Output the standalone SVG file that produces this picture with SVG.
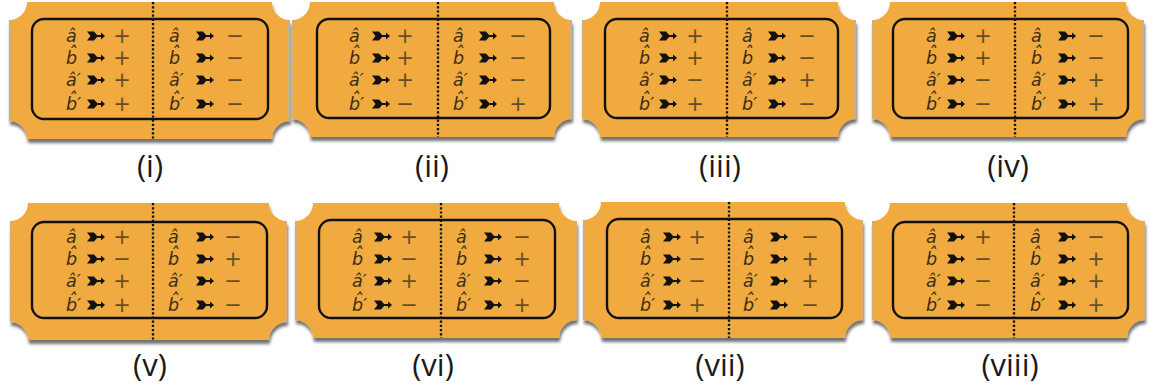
<svg xmlns="http://www.w3.org/2000/svg" xmlns:xlink="http://www.w3.org/1999/xlink" width="1149" height="392" viewBox="0 0 1149 392">
<defs>
<filter id="sh" x="-5%" y="-5%" width="112%" height="125%"><feDropShadow dx="1" dy="4" stdDeviation="1.8" flood-color="#000" flood-opacity="0.55"/></filter>
<path id="ar" d="M0,-4.5 L7,-4.5 L11,0 L7,4.5 L0,4.5 L3.5,0 Z M10.5,-0.9 H14 V-3.4 L18,0 L14,3.4 V0.9 H10.5 Z" fill="#111"/>
<style>
.tk{fill:#F1AA3F;filter:url(#sh)}
.perf{stroke:#b3b2b4;stroke-width:2;stroke-dasharray:1.6 1.6;fill:none}
.in{fill:none;stroke:#111;stroke-width:2.4}
.dv{stroke:#111;stroke-width:2.3;stroke-dasharray:2.2 2}
.v{font-family:"DejaVu Sans",sans-serif;font-style:italic;font-size:17.5px;fill:#3a2e14}
.s{font-family:"DejaVu Sans",sans-serif;font-size:21px;fill:#634f28;text-anchor:middle}
.lbl{font-family:"Open Sans",sans-serif;font-size:31px;fill:#1a1a1a;text-anchor:middle}
</style>
</defs>

<g id="ticket-i">
<path class="tk" d="M27,2 H272 A18,18 0 0 0 290,20 V121 A18,18 0 0 0 272,139 H27 A18,18 0 0 0 9,121 V20 A18,18 0 0 0 27,2 Z"/>
<line class="perf" x1="10" y1="20" x2="10" y2="121"/><line class="perf" x1="289" y1="20" x2="289" y2="121"/>
<rect class="in" x="32" y="19" width="236" height="100" rx="12"/>
<line class="dv" x1="153" y1="2" x2="153" y2="139"/>
<g transform="translate(66,36)">
<text class="v" y="6">â</text><use href="#ar" x="21"/><text class="s" x="56" y="7">+</text>
<text class="v" y="28">b<tspan dx="-9" dy="-5">ˆ</tspan></text><use href="#ar" x="21" y="22"/><text class="s" x="56" y="29">+</text>
<text class="v" y="50">â′</text><use href="#ar" x="21" y="44"/><text class="s" x="56" y="51">+</text>
<text class="v" y="74">b<tspan dx="-9" dy="-5">ˆ</tspan><tspan dx="0.3" dy="5">′</tspan></text><use href="#ar" x="21" y="68"/><text class="s" x="56" y="75">+</text>
</g>
<g transform="translate(169,36)">
<text class="v" y="6">â</text><use href="#ar" x="27"/><text class="s" x="66" y="7">−</text>
<text class="v" y="28">b<tspan dx="-9" dy="-5">ˆ</tspan></text><use href="#ar" x="27" y="22"/><text class="s" x="66" y="29">−</text>
<text class="v" y="50">â′</text><use href="#ar" x="27" y="44"/><text class="s" x="66" y="51">−</text>
<text class="v" y="74">b<tspan dx="-9" dy="-5">ˆ</tspan><tspan dx="0.3" dy="5">′</tspan></text><use href="#ar" x="27" y="68"/><text class="s" x="66" y="75">−</text>
</g>
<text class="lbl" x="150" y="177">(i)</text>
</g>

<g id="ticket-ii">
<path class="tk" d="M310,2 H554 A18,18 0 0 0 572,20 V119 A18,18 0 0 0 554,137 H310 A18,18 0 0 0 292,119 V20 A18,18 0 0 0 310,2 Z"/>
<line class="perf" x1="293" y1="20" x2="293" y2="119"/><line class="perf" x1="571" y1="20" x2="571" y2="119"/>
<rect class="in" x="317" y="19" width="233" height="99" rx="12"/>
<line class="dv" x1="438" y1="2" x2="438" y2="137"/>
<g transform="translate(349,36)">
<text class="v" y="6">â</text><use href="#ar" x="23"/><text class="s" x="56" y="7">+</text>
<text class="v" y="28">b<tspan dx="-9" dy="-5">ˆ</tspan></text><use href="#ar" x="23" y="22"/><text class="s" x="56" y="29">+</text>
<text class="v" y="50">â′</text><use href="#ar" x="23" y="44"/><text class="s" x="56" y="51">+</text>
<text class="v" y="74">b<tspan dx="-9" dy="-5">ˆ</tspan><tspan dx="0.3" dy="5">′</tspan></text><use href="#ar" x="23" y="68"/><text class="s" x="56" y="75">−</text>
</g>
<g transform="translate(453,36)">
<text class="v" y="6">â</text><use href="#ar" x="26"/><text class="s" x="65" y="7">−</text>
<text class="v" y="28">b<tspan dx="-9" dy="-5">ˆ</tspan></text><use href="#ar" x="26" y="22"/><text class="s" x="65" y="29">−</text>
<text class="v" y="50">â′</text><use href="#ar" x="26" y="44"/><text class="s" x="65" y="51">−</text>
<text class="v" y="74">b<tspan dx="-9" dy="-5">ˆ</tspan><tspan dx="0.3" dy="5">′</tspan></text><use href="#ar" x="26" y="68"/><text class="s" x="65" y="75">+</text>
</g>
<text class="lbl" x="432" y="177">(ii)</text>
</g>

<g id="ticket-iii">
<path class="tk" d="M600,2 H838 A18,18 0 0 0 856,20 V119 A18,18 0 0 0 838,137 H600 A18,18 0 0 0 582,119 V20 A18,18 0 0 0 600,2 Z"/>
<line class="perf" x1="583" y1="20" x2="583" y2="119"/><line class="perf" x1="855" y1="20" x2="855" y2="119"/>
<rect class="in" x="605" y="19" width="233" height="99" rx="12"/>
<line class="dv" x1="727" y1="2" x2="727" y2="137"/>
<g transform="translate(639,36)">
<text class="v" y="6">â</text><use href="#ar" x="20"/><text class="s" x="56" y="7">+</text>
<text class="v" y="28">b<tspan dx="-9" dy="-5">ˆ</tspan></text><use href="#ar" x="20" y="22"/><text class="s" x="56" y="29">+</text>
<text class="v" y="50">â′</text><use href="#ar" x="20" y="44"/><text class="s" x="56" y="51">−</text>
<text class="v" y="74">b<tspan dx="-9" dy="-5">ˆ</tspan><tspan dx="0.3" dy="5">′</tspan></text><use href="#ar" x="20" y="68"/><text class="s" x="56" y="75">+</text>
</g>
<g transform="translate(742,36)">
<text class="v" y="6">â</text><use href="#ar" x="26"/><text class="s" x="65" y="7">−</text>
<text class="v" y="28">b<tspan dx="-9" dy="-5">ˆ</tspan></text><use href="#ar" x="26" y="22"/><text class="s" x="65" y="29">−</text>
<text class="v" y="50">â′</text><use href="#ar" x="26" y="44"/><text class="s" x="65" y="51">+</text>
<text class="v" y="74">b<tspan dx="-9" dy="-5">ˆ</tspan><tspan dx="0.3" dy="5">′</tspan></text><use href="#ar" x="26" y="68"/><text class="s" x="65" y="75">−</text>
</g>
<text class="lbl" x="720" y="177">(iii)</text>
</g>

<g id="ticket-iv">
<path class="tk" d="M890,2 H1126 A18,18 0 0 0 1144,20 V119 A18,18 0 0 0 1126,137 H890 A18,18 0 0 0 872,119 V20 A18,18 0 0 0 890,2 Z"/>
<line class="perf" x1="873" y1="20" x2="873" y2="119"/><line class="perf" x1="1143" y1="20" x2="1143" y2="119"/>
<rect class="in" x="893" y="19" width="235" height="99" rx="12"/>
<line class="dv" x1="1015" y1="2" x2="1015" y2="137"/>
<g transform="translate(926,36)">
<text class="v" y="6">â</text><use href="#ar" x="21"/><text class="s" x="57" y="7">+</text>
<text class="v" y="28">b<tspan dx="-9" dy="-5">ˆ</tspan></text><use href="#ar" x="21" y="22"/><text class="s" x="57" y="29">+</text>
<text class="v" y="50">â′</text><use href="#ar" x="21" y="44"/><text class="s" x="57" y="51">−</text>
<text class="v" y="74">b<tspan dx="-9" dy="-5">ˆ</tspan><tspan dx="0.3" dy="5">′</tspan></text><use href="#ar" x="21" y="68"/><text class="s" x="57" y="75">−</text>
</g>
<g transform="translate(1031,36)">
<text class="v" y="6">â</text><use href="#ar" x="27"/><text class="s" x="65" y="7">−</text>
<text class="v" y="28">b<tspan dx="-9" dy="-5">ˆ</tspan></text><use href="#ar" x="27" y="22"/><text class="s" x="65" y="29">−</text>
<text class="v" y="50">â′</text><use href="#ar" x="27" y="44"/><text class="s" x="65" y="51">+</text>
<text class="v" y="74">b<tspan dx="-9" dy="-5">ˆ</tspan><tspan dx="0.3" dy="5">′</tspan></text><use href="#ar" x="27" y="68"/><text class="s" x="65" y="75">+</text>
</g>
<text class="lbl" x="1008" y="177">(iv)</text>
</g>

<g id="ticket-v">
<path class="tk" d="M28,203 H269 A18,18 0 0 0 287,221 V322 A18,18 0 0 0 269,340 H28 A18,18 0 0 0 10,322 V221 A18,18 0 0 0 28,203 Z"/>
<line class="perf" x1="11" y1="221" x2="11" y2="322"/><line class="perf" x1="286" y1="221" x2="286" y2="322"/>
<rect class="in" x="32" y="222" width="235" height="96" rx="12"/>
<line class="dv" x1="153" y1="203" x2="153" y2="340"/>
<g transform="translate(66,237)">
<text class="v" y="6">â</text><use href="#ar" x="21"/><text class="s" x="56" y="7">+</text>
<text class="v" y="28">b<tspan dx="-9" dy="-5">ˆ</tspan></text><use href="#ar" x="21" y="22"/><text class="s" x="56" y="29">−</text>
<text class="v" y="50">â′</text><use href="#ar" x="21" y="44"/><text class="s" x="56" y="51">+</text>
<text class="v" y="74">b<tspan dx="-9" dy="-5">ˆ</tspan><tspan dx="0.3" dy="5">′</tspan></text><use href="#ar" x="21" y="68"/><text class="s" x="56" y="75">+</text>
</g>
<g transform="translate(168,237)">
<text class="v" y="6">â</text><use href="#ar" x="28"/><text class="s" x="65" y="7">−</text>
<text class="v" y="28">b<tspan dx="-9" dy="-5">ˆ</tspan></text><use href="#ar" x="28" y="22"/><text class="s" x="65" y="29">+</text>
<text class="v" y="50">â′</text><use href="#ar" x="28" y="44"/><text class="s" x="65" y="51">−</text>
<text class="v" y="74">b<tspan dx="-9" dy="-5">ˆ</tspan><tspan dx="0.3" dy="5">′</tspan></text><use href="#ar" x="28" y="68"/><text class="s" x="65" y="75">−</text>
</g>
<text class="lbl" x="150" y="376">(v)</text>
</g>

<g id="ticket-vi">
<path class="tk" d="M313,203 H559 A18,18 0 0 0 577,221 V320 A18,18 0 0 0 559,338 H313 A18,18 0 0 0 295,320 V221 A18,18 0 0 0 313,203 Z"/>
<line class="perf" x1="296" y1="221" x2="296" y2="320"/><line class="perf" x1="576" y1="221" x2="576" y2="320"/>
<rect class="in" x="319" y="220" width="236" height="98" rx="12"/>
<line class="dv" x1="441" y1="203" x2="441" y2="338"/>
<g transform="translate(352,237)">
<text class="v" y="6">â</text><use href="#ar" x="22"/><text class="s" x="57" y="7">+</text>
<text class="v" y="28">b<tspan dx="-9" dy="-5">ˆ</tspan></text><use href="#ar" x="22" y="22"/><text class="s" x="57" y="29">−</text>
<text class="v" y="50">â′</text><use href="#ar" x="22" y="44"/><text class="s" x="57" y="51">+</text>
<text class="v" y="74">b<tspan dx="-9" dy="-5">ˆ</tspan><tspan dx="0.3" dy="5">′</tspan></text><use href="#ar" x="22" y="68"/><text class="s" x="57" y="75">−</text>
</g>
<g transform="translate(456,237)">
<text class="v" y="6">â</text><use href="#ar" x="28"/><text class="s" x="66" y="7">−</text>
<text class="v" y="28">b<tspan dx="-9" dy="-5">ˆ</tspan></text><use href="#ar" x="28" y="22"/><text class="s" x="66" y="29">+</text>
<text class="v" y="50">â′</text><use href="#ar" x="28" y="44"/><text class="s" x="66" y="51">−</text>
<text class="v" y="74">b<tspan dx="-9" dy="-5">ˆ</tspan><tspan dx="0.3" dy="5">′</tspan></text><use href="#ar" x="28" y="68"/><text class="s" x="66" y="75">+</text>
</g>
<text class="lbl" x="433" y="376">(vi)</text>
</g>

<g id="ticket-vii">
<path class="tk" d="M601,202 H845 A18,18 0 0 0 863,220 V320 A18,18 0 0 0 845,338 H601 A18,18 0 0 0 583,320 V220 A18,18 0 0 0 601,202 Z"/>
<line class="perf" x1="584" y1="220" x2="584" y2="320"/><line class="perf" x1="862" y1="220" x2="862" y2="320"/>
<rect class="in" x="607" y="219" width="235" height="99" rx="12"/>
<line class="dv" x1="729" y1="202" x2="729" y2="338"/>
<g transform="translate(640,237)">
<text class="v" y="6">â</text><use href="#ar" x="23"/><text class="s" x="57" y="7">+</text>
<text class="v" y="28">b<tspan dx="-9" dy="-5">ˆ</tspan></text><use href="#ar" x="23" y="22"/><text class="s" x="57" y="29">−</text>
<text class="v" y="50">â′</text><use href="#ar" x="23" y="44"/><text class="s" x="57" y="51">−</text>
<text class="v" y="74">b<tspan dx="-9" dy="-5">ˆ</tspan><tspan dx="0.3" dy="5">′</tspan></text><use href="#ar" x="23" y="68"/><text class="s" x="57" y="75">+</text>
</g>
<g transform="translate(743,237)">
<text class="v" y="6">â</text><use href="#ar" x="27"/><text class="s" x="67" y="7">−</text>
<text class="v" y="28">b<tspan dx="-9" dy="-5">ˆ</tspan></text><use href="#ar" x="27" y="22"/><text class="s" x="67" y="29">+</text>
<text class="v" y="50">â′</text><use href="#ar" x="27" y="44"/><text class="s" x="67" y="51">+</text>
<text class="v" y="74">b<tspan dx="-9" dy="-5">ˆ</tspan><tspan dx="0.3" dy="5">′</tspan></text><use href="#ar" x="27" y="68"/><text class="s" x="67" y="75">−</text>
</g>
<text class="lbl" x="720" y="376">(vii)</text>
</g>

<g id="ticket-viii">
<path class="tk" d="M890,203 H1127 A18,18 0 0 0 1145,221 V320 A18,18 0 0 0 1127,338 H890 A18,18 0 0 0 872,320 V221 A18,18 0 0 0 890,203 Z"/>
<line class="perf" x1="873" y1="221" x2="873" y2="320"/><line class="perf" x1="1144" y1="221" x2="1144" y2="320"/>
<rect class="in" x="893" y="222" width="235" height="96" rx="12"/>
<line class="dv" x1="1014" y1="203" x2="1014" y2="338"/>
<g transform="translate(926,237)">
<text class="v" y="6">â</text><use href="#ar" x="21"/><text class="s" x="57" y="7">+</text>
<text class="v" y="28">b<tspan dx="-9" dy="-5">ˆ</tspan></text><use href="#ar" x="21" y="22"/><text class="s" x="57" y="29">−</text>
<text class="v" y="50">â′</text><use href="#ar" x="21" y="44"/><text class="s" x="57" y="51">−</text>
<text class="v" y="74">b<tspan dx="-9" dy="-5">ˆ</tspan><tspan dx="0.3" dy="5">′</tspan></text><use href="#ar" x="21" y="68"/><text class="s" x="57" y="75">−</text>
</g>
<g transform="translate(1030,237)">
<text class="v" y="6">â</text><use href="#ar" x="28"/><text class="s" x="66" y="7">−</text>
<text class="v" y="28">b<tspan dx="-9" dy="-5">ˆ</tspan></text><use href="#ar" x="28" y="22"/><text class="s" x="66" y="29">+</text>
<text class="v" y="50">â′</text><use href="#ar" x="28" y="44"/><text class="s" x="66" y="51">+</text>
<text class="v" y="74">b<tspan dx="-9" dy="-5">ˆ</tspan><tspan dx="0.3" dy="5">′</tspan></text><use href="#ar" x="28" y="68"/><text class="s" x="66" y="75">+</text>
</g>
<text class="lbl" x="1010" y="376">(viii)</text>
</g>
</svg>
